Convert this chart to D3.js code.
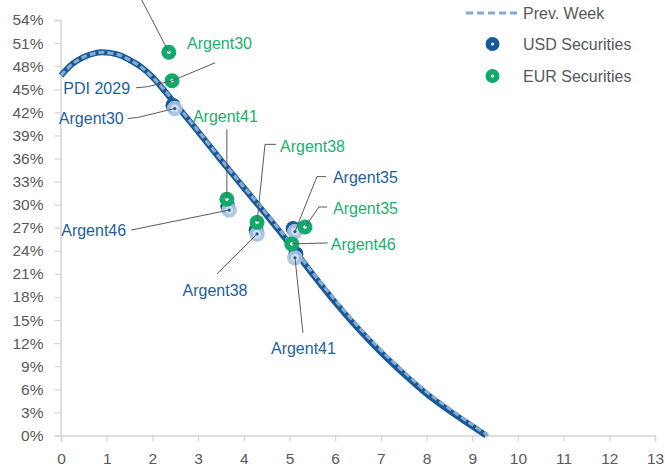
<!DOCTYPE html>
<html><head><meta charset="utf-8">
<script src="https://cdn.jsdelivr.net/npm/d3@7"></script>
<style>
html,body{margin:0;padding:0;background:#fff;}
svg{display:block;font-family:"Liberation Sans",Arial,sans-serif;}
</style></head><body>
<svg id="chart" width="665" height="471"></svg>
<script>
// Fitted sovereign curve: duration (years) -> yield (%)
const curveDur  = [0, 0.25, 0.5, 0.75, 0.9, 1.25, 1.5, 1.75, 2.0, 2.25, 2.5, 3.0, 3.5, 4.0, 4.5, 5.0, 5.5, 6.0, 6.5, 7.0, 7.5, 8.0, 8.5, 9.0, 9.3];
const curveNow  = [46.8, 48.3, 49.2, 49.7, 49.8, 49.5, 48.8, 47.9, 46.6, 44.9, 43.1, 39.5, 35.8, 32.2, 28.6, 24.9, 21.0, 17.3, 13.9, 10.8, 8.0, 5.4, 3.2, 1.2, 0];
const prevDur   = [0, 0.25, 0.5, 0.75, 0.9, 1.25, 1.5, 1.75, 2.0, 2.25, 2.5, 3.0, 3.5, 4.0, 4.5, 5.0, 5.5, 6.0, 6.5, 7.0, 7.5, 8.0, 8.5, 9.0, 9.35];
const curvePrev = [46.8, 48.3, 49.2, 49.7, 49.8, 49.5, 48.8, 47.9, 46.6, 45.0, 43.2, 39.6, 35.9, 32.3, 28.8, 25.1, 21.2, 17.6, 14.2, 11.1, 8.3, 5.7, 3.5, 1.4, 0];

// USD bonds: this week and previous week
const usdNames     = ["Argent30", "Argent46", "Argent38", "Argent35", "Argent41"];
const usdDur       = [2.45, 3.65, 4.27, 5.08, 5.14];
const usdYield     = [42.9, 29.8, 26.7, 26.9, 23.6];
const usdPrevDur   = [2.49, 3.68, 4.29, 5.12, 5.12];
const usdPrevYield = [42.5, 29.3, 26.2, 26.5, 23.1];

// EUR bonds
const eurNames = ["", "Argent30", "Argent41", "Argent38", "Argent35", "Argent46"];
const eurDur   = [2.36, 2.43, 3.63, 4.29, 5.34, 5.05];
const eurYield = [49.8, 46.1, 30.7, 27.7, 27.1, 24.9];

const xTicks = d3.range(0, 14, 1);
const yTicks = d3.range(0, 55, 3);

const legendItems = ["Prev. Week", "USD Securities", "EUR Securities"];

// colours
const C = {
  axis: "#d4d4d4", text: "#595959", lead: "#5a5a5a",
  usd: "#17589a", usdLight: "#a7c3e0", usdText: "#1f5f9e",
  prev: "#86abd0", eur: "#12aa6c", eurText: "#1bb070"
};

// callout layout: pixel offsets from the marker centre (leader path, text anchor)
const usdCallouts = [
  { i: 0, path: [[-37, 9], [-47, 10]],  tx: -51, ty: 10,  anchor: "end" },
  { i: 1, path: [[-98, 20]],            tx: -103, ty: 20, anchor: "end" },
  { i: 2, path: [[-40, 40]],            tx: -42, ty: 56,  anchor: "middle" },
  { i: 3, path: [[22, -55], [31, -55]], tx: 38,  ty: -54, anchor: "start" },
  { i: 4, path: [[8, 75]],              tx: 8.5, ty: 90,  anchor: "middle" }
];
const eurCallouts = [
  { i: 0, path: [[-29, -56]],            tx: 0,    ty: 0,   anchor: "start" },
  { i: 1, path: [[43, -18]],             tx: 15,   ty: -38, anchor: "start" },
  { i: 2, path: [[0, -70]],              tx: -1.5, ty: -83, anchor: "middle" },
  { i: 3, path: [[8, -78], [19, -78]],   tx: 23,   ty: -76, anchor: "start" },
  { i: 4, path: [[14, -20], [22, -20]],  tx: 28,   ty: -19, anchor: "start" },
  { i: 5, path: [[36, -1]],              tx: 39,   ty: 0,   anchor: "start" }
];
// local-currency bond shown on the same spot as the EUR Argent30
const extraCallouts = [
  { text: "PDI 2029", ref: 1, path: [[-25, 6], [-36, 7]], tx: -42, ty: 7, anchor: "end" }
];

const svg = d3.select("#chart");
const x = d3.scaleLinear().domain([0, 13]).range([61, 655]);
const y = d3.scaleLinear().domain([0, 54]).range([435.5, 20]);

// axes
const xAxis = svg.append("g").attr("transform", `translate(0,${y(0)})`)
  .call(d3.axisBottom(x).tickValues(xTicks).tickFormat(d3.format("d")).tickSizeOuter(0).tickSize(6).tickPadding(11));
const yAxis = svg.append("g").attr("transform", `translate(${x(0) - 0.5},0)`)
  .call(d3.axisLeft(y).tickValues(yTicks).tickFormat(d => d + "%").tickSizeOuter(0).tickSize(6).tickPadding(11));
[xAxis, yAxis].forEach(g => {
  g.select(".domain").attr("stroke", C.axis).attr("stroke-width", 1.5);
  g.selectAll(".tick line").attr("stroke", C.axis).attr("stroke-width", 1.2);
  g.selectAll(".tick text").attr("fill", C.text).style("font-size", "15.5px")
    .style("font-family", '"Liberation Sans", Arial, sans-serif');
});

// curves
const line = d3.line().curve(d3.curveCatmullRom.alpha(0.5)).x(d => x(d[0])).y(d => y(d[1]));
svg.append("path").datum(curveDur.map((d, i) => [d, curveNow[i]]))
  .attr("d", line).attr("fill", "none").attr("stroke", C.usd).attr("stroke-width", 6)
  .attr("stroke-linecap", "butt");
svg.append("path").datum(prevDur.map((d, i) => [d, curvePrev[i]]))
  .attr("d", line).attr("fill", "none").attr("stroke", C.prev).attr("stroke-width", 3.2)
  .attr("stroke-dasharray", "6,3");

// USD markers: this week (dark) with previous-week marker over it
const usdPts = usdDur.map((d, i) => ({ x: x(d), y: y(usdYield[i]) }));
const usdPrevPts = usdPrevDur.map((d, i) => ({ x: x(d), y: y(usdPrevYield[i]) }));
const eurPts = eurDur.map((d, i) => ({ x: x(d), y: y(eurYield[i]) }));

const gMarks = svg.append("g");
usdPts.forEach(p => {
  gMarks.append("circle").attr("cx", p.x).attr("cy", p.y).attr("r", 7.5).attr("fill", C.usd);
  gMarks.append("circle").attr("cx", p.x).attr("cy", p.y).attr("r", 1.6).attr("fill", "#fff");
});
usdPrevPts.forEach(p => {
  gMarks.append("circle").attr("cx", p.x).attr("cy", p.y).attr("r", 7.8).attr("fill", C.usdLight).attr("opacity", 0.92);
  gMarks.append("circle").attr("cx", p.x).attr("cy", p.y).attr("r", 4).attr("fill", "#d3e2f0").attr("opacity", 0.9);
  gMarks.append("circle").attr("cx", p.x).attr("cy", p.y).attr("r", 1.6).attr("fill", C.usd);
});
eurPts.forEach(p => {
  gMarks.append("circle").attr("cx", p.x).attr("cy", p.y).attr("r", 7.5).attr("fill", C.eur);
  gMarks.append("circle").attr("cx", p.x).attr("cy", p.y).attr("r", 1.7).attr("fill", "#fff");
});

// callouts
const gLab = svg.append("g");
function callout(p, c, text, color) {
  const pts = [[p.x, p.y]].concat(c.path.map(o => [p.x + o[0], p.y + o[1]]));
  gLab.append("path").attr("d", d3.line()(pts)).attr("fill", "none")
    .attr("stroke", C.lead).attr("stroke-width", 1);
  if (text) {
    gLab.append("text").attr("x", p.x + c.tx).attr("y", p.y + c.ty).attr("dy", "0.36em")
      .attr("text-anchor", c.anchor).attr("fill", color).style("font-size", "16px").text(text);
  }
}
usdCallouts.forEach(c => callout(usdPrevPts[c.i], c, usdNames[c.i], C.usdText));
eurCallouts.forEach(c => callout(eurPts[c.i], c, eurNames[c.i], C.eurText));
extraCallouts.forEach(c => callout(eurPts[c.ref], c, c.text, C.usdText));

// legend
const lg = svg.append("g");
lg.append("line").attr("x1", 466).attr("x2", 518).attr("y1", 13).attr("y2", 13)
  .attr("stroke", C.prev).attr("stroke-width", 3).attr("stroke-dasharray", "7,4");
const legendY = [13, 44, 76];
[C.usd, C.eur].forEach((col, k) => {
  lg.append("circle").attr("cx", 492.5).attr("cy", legendY[k + 1]).attr("r", 7).attr("fill", col);
  lg.append("circle").attr("cx", 492.5).attr("cy", legendY[k + 1]).attr("r", 1.5).attr("fill", "#fff");
});
legendItems.forEach((t, k) => {
  lg.append("text").attr("x", 523).attr("y", legendY[k]).attr("dy", "0.36em")
    .attr("fill", C.text).style("font-size", "16px").text(t);
});
</script>
</body></html>
